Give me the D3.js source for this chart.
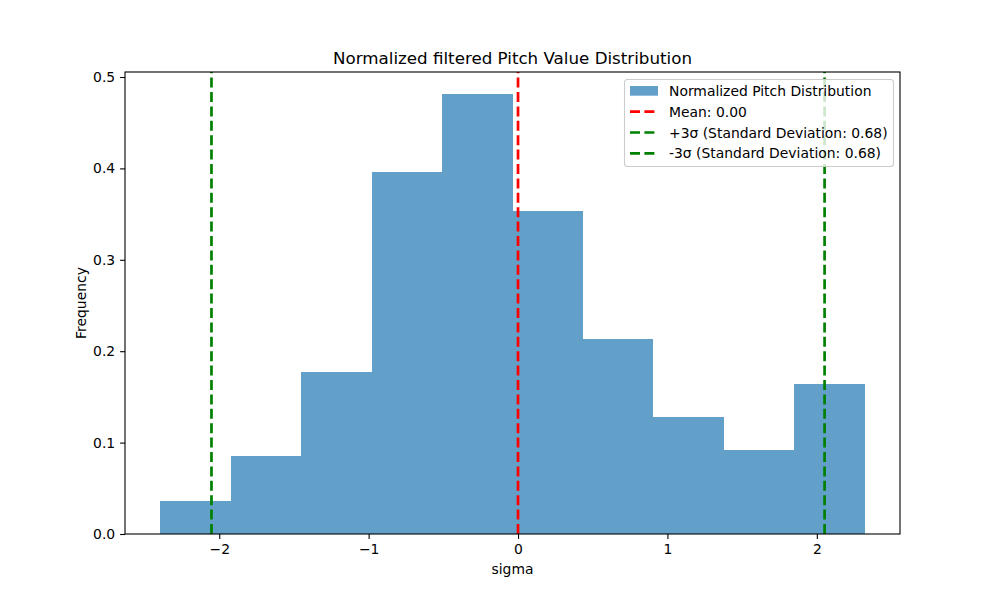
<!DOCTYPE html>
<html>
<head>
<meta charset="utf-8">
<script src="https://cdn.jsdelivr.net/npm/d3@7"></script>
<style>
  body { margin: 0; background: #fff; }
  svg text { font-family: "DejaVu Sans", sans-serif; fill: #000; }
</style>
</head>
<body>
<svg id="chart" width="1000" height="600"></svg>
<script>
// histogram bins (sigma units) and normalized heights
var binStart = -2.395;
var binWidth = 0.4716;
var freqs = [0.036, 0.0853, 0.1772, 0.3964, 0.4814, 0.3534, 0.2133, 0.128, 0.0919, 0.1641];
var meanVal = 0.0;
var stdVal = 0.684;
var xTicks = [-2, -1, 0, 1, 2];
var yTicks = [0.0, 0.1, 0.2, 0.3, 0.4, 0.5];
var legendLabels = ["Normalized Pitch Distribution", "Mean: 0.00",
    "+3\u03c3 (Standard Deviation: 0.68)", "-3\u03c3 (Standard Deviation: 0.68)"];

var svg = d3.select("#chart");
var plotLeft = 125, plotRight = 900, plotTop = 72, plotBottom = 534;

var bins = freqs.map(function(f, i) {
    return { x0: binStart + i * binWidth, x1: binStart + (i + 1) * binWidth, y: f };
});
var xMin = binStart, xMax = binStart + freqs.length * binWidth;
var pad = (xMax - xMin) * 0.05;

var x = d3.scaleLinear().domain([xMin - pad, xMax + pad]).range([plotLeft, plotRight]);
var y = d3.scaleLinear().domain([0, d3.max(freqs) * 1.05]).range([plotBottom, plotTop]);

svg.append("g").selectAll("rect")
    .data(bins)
    .enter()
    .append("rect")
        .attr("x", function(d) { return x(d.x0); })
        .attr("width", function(d) { return x(d.x1) - x(d.x0); })
        .attr("y", function(d) { return y(d.y); })
        .attr("height", function(d) { return y(0) - y(d.y); })
        .attr("fill", "#1f77b4")
        .attr("fill-opacity", 0.7)
        .attr("shape-rendering", "crispEdges");

var vlines = [
    { v: meanVal, c: "#ff0000" },
    { v: meanVal + 3 * stdVal, c: "#008000" },
    { v: meanVal - 3 * stdVal, c: "#008000" }
];
svg.append("g").selectAll("line")
    .data(vlines)
    .enter()
    .append("line")
        .attr("x1", function(d) { return x(d.v); })
        .attr("x2", function(d) { return x(d.v); })
        .attr("y1", plotBottom)
        .attr("y2", plotTop)
        .attr("stroke", function(d) { return d.c; })
        .attr("stroke-width", 2.7)
        .attr("stroke-dasharray", "10,4.4");

var fmtMinus = function(s) { return s.replace("-", "\u2212"); };

var xAxis = d3.axisBottom(x).tickValues(xTicks).tickSize(4.9).tickPadding(4.9)
    .tickFormat(function(d) { return fmtMinus(d3.format("d")(d)); });
var yAxis = d3.axisLeft(y).tickValues(yTicks).tickSize(4.9).tickPadding(4.9)
    .tickFormat(d3.format(".1f"));

var gx = svg.append("g").attr("transform", "translate(0," + plotBottom + ")").call(xAxis);
var gy = svg.append("g").attr("transform", "translate(" + plotLeft + ",0)").call(yAxis);
[gx, gy].forEach(function(g) {
    g.select(".domain").remove();
    g.selectAll(".tick line").attr("stroke", "#000").attr("stroke-width", 1.1);
    g.selectAll(".tick text").attr("font-size", 13.9).attr("font-family", "DejaVu Sans");
});

svg.append("rect")
    .attr("x", plotLeft).attr("y", plotTop)
    .attr("width", plotRight - plotLeft).attr("height", plotBottom - plotTop)
    .attr("fill", "none").attr("stroke", "#000").attr("stroke-width", 1.1);

svg.append("text")
    .attr("x", (plotLeft + plotRight) / 2).attr("y", 64)
    .attr("text-anchor", "middle").attr("font-size", 16.7)
    .text("Normalized filtered Pitch Value Distribution");

svg.append("text")
    .attr("x", (plotLeft + plotRight) / 2).attr("y", 574)
    .attr("text-anchor", "middle").attr("font-size", 13.9)
    .text("sigma");

svg.append("text")
    .attr("transform", "translate(86," + (plotTop + plotBottom) / 2 + ") rotate(-90)")
    .attr("text-anchor", "middle").attr("font-size", 13.9)
    .text("Frequency");

// legend
var lg = svg.append("g");
lg.append("rect")
    .attr("x", 624.5).attr("y", 79.5)
    .attr("width", 269).attr("height", 87)
    .attr("rx", 3).attr("ry", 3)
    .attr("fill", "#fff").attr("fill-opacity", 0.8)
    .attr("stroke", "#cccccc").attr("stroke-width", 1.1);

var rowY = [91, 111.7, 132.5, 153.3];
var handles = [
    { type: "patch" },
    { type: "line", c: "#ff0000" },
    { type: "line", c: "#008000" },
    { type: "line", c: "#008000" }
];
handles.forEach(function(h, i) {
    if (h.type == "patch") {
        lg.append("rect")
            .attr("x", 630).attr("y", rowY[i] - 5)
            .attr("width", 28).attr("height", 9.7)
            .attr("fill", "#1f77b4").attr("fill-opacity", 0.7);
    } else {
        lg.append("line")
            .attr("x1", 630).attr("x2", 658)
            .attr("y1", rowY[i]).attr("y2", rowY[i])
            .attr("stroke", h.c).attr("stroke-width", 2.7)
            .attr("stroke-dasharray", "10,4.4");
    }
    lg.append("text")
        .attr("x", 669).attr("y", rowY[i] + 5)
        .attr("font-size", 13.9)
        .text(legendLabels[i]);
});
</script>
</body>
</html>
